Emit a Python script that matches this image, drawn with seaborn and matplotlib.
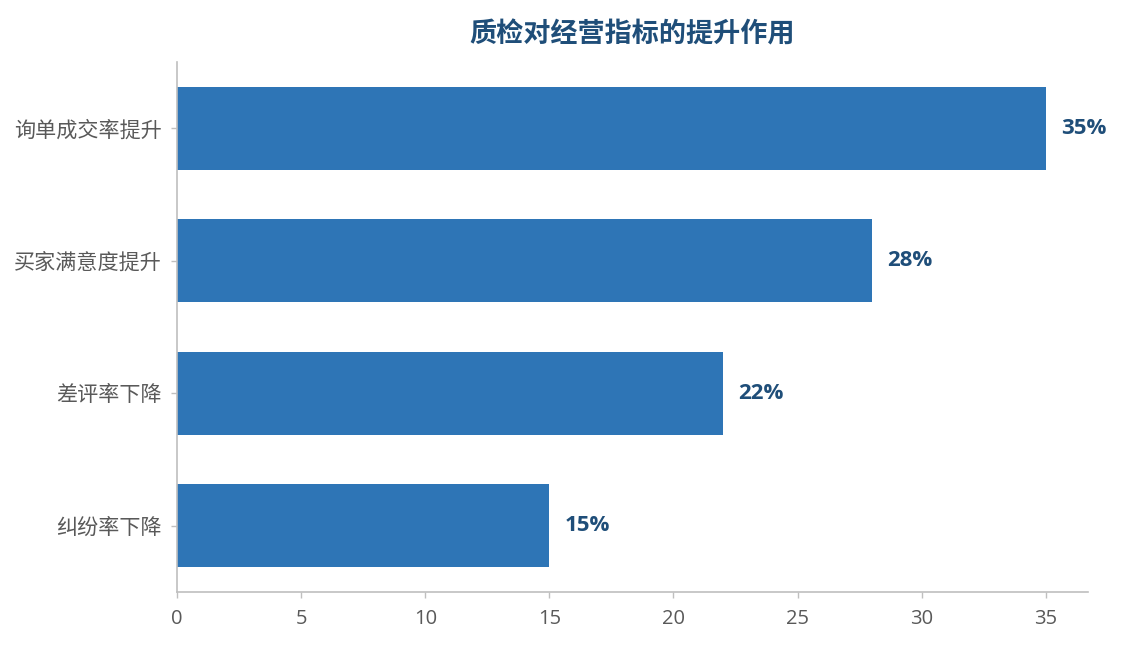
import matplotlib
matplotlib.use("Agg")
import matplotlib.pyplot as plt
import seaborn as sns
import pandas as pd

# Data
categories = ["询单成交率提升", "买家满意度提升", "差评率下降", "纠纷率下降"]
values = [35, 28, 22, 15]
value_labels = ["35%", "28%", "22%", "15%"]

sns.set_theme(style="white")
plt.rcParams["font.family"] = ["Open Sans", "Noto Sans CJK SC", "DejaVu Sans"]

df = pd.DataFrame({"指标": categories, "提升": values})

fig = plt.figure(figsize=(11.24, 6.45), dpi=100)
ax = fig.add_axes([0.1575, 0.082, 0.8105, 0.822])

sns.barplot(data=df, y="指标", x="提升", orient="h", color="#2e75b6",
            saturation=1, width=0.625, linewidth=0, ax=ax)

# value labels at the end of each bar
for i, (v, lab) in enumerate(zip(values, value_labels)):
    ax.annotate(lab, (v, i), xytext=(11, 0), textcoords="offset points",
                ha="left", va="center", fontsize=16, fontweight="bold",
                color="#1f4e79")

ax.set_xlim(0, 36.7)
ax.set_ylim(3.5, -0.5)
ax.set_xlabel("")
ax.set_ylabel("")
ax.set_title("质检对经营指标的提升作用", fontsize=19.5, fontweight="bold",
             color="#1f4e79", pad=14)

sns.despine(ax=ax)
for s in ["left", "bottom"]:
    ax.spines[s].set_color("#bfbfbf")
    ax.spines[s].set_linewidth(1.2)
ax.tick_params(axis="both", colors="#bfbfbf", labelcolor="#595959",
               labelsize=14.5, length=4, width=1, left=True, bottom=True)
ax.tick_params(axis="y", pad=7, labelsize=15.2)
ax.tick_params(axis="x", pad=8)

fig.savefig("out.png", dpi=100)
